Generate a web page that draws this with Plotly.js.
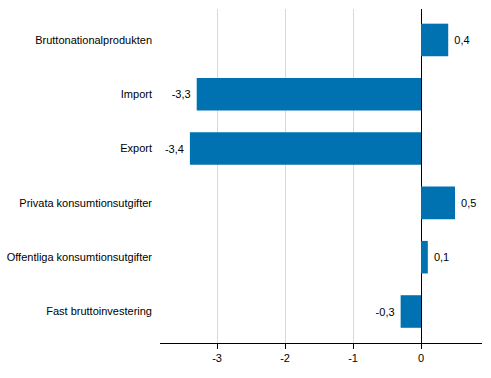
<!DOCTYPE html>
<html>
<head>
<meta charset="utf-8">
<script src="https://cdn.plot.ly/plotly-3.0.1.min.js"></script>
<style>html,body{margin:0;padding:0;background:#fff;}#chart{width:491px;height:378px;}</style>
</head>
<body>
<div id="chart"></div>
<script>
const categories = ["Bruttonationalprodukten","Import","Export","Privata konsumtionsutgifter","Offentliga konsumtionsutgifter","Fast bruttoinvestering"];
const values = [0.4, -3.3, -3.4, 0.5, 0.1, -0.3];
const xTickVals = [-3, -2, -1, 0];
const xTickText = ["-3", "-2", "-1", "0"];

const labels = values.map(v => {
  const s = v.toFixed(1).replace('.', ',');
  return v < 0 ? s + '\u00a0' : '\u00a0' + s;
});

const trace = {
  type: 'bar',
  orientation: 'h',
  y: categories,
  x: values,
  text: labels,
  textposition: 'outside',
  cliponaxis: false,
  textfont: {family: 'Liberation Sans, Arial, sans-serif', size: 11, color: '#000'},
  marker: {color: '#0072b2'},
  hoverinfo: 'none'
};

const layout = {
  width: 491, height: 378,
  margin: {l: 160, r: 9, t: 9, b: 35},
  paper_bgcolor: '#fff', plot_bgcolor: '#fff',
  font: {family: 'Liberation Sans, Arial, sans-serif', size: 11, color: '#000'},
  showlegend: false,
  bargap: 0.4,
  separators: ', ',
  xaxis: {
    range: [-3.84, 0.897],
    tickvals: xTickVals, ticktext: xTickText,
    showgrid: true, gridcolor: '#d9d9d9', gridwidth: 1,
    zeroline: true, zerolinecolor: '#000', zerolinewidth: 1,
    showline: true, linecolor: '#000', linewidth: 1,
    ticks: 'outside', ticklen: 5, tickcolor: '#000',
    fixedrange: true
  },
  yaxis: {
    type: 'category',
    range: [5.58, -0.57],
    showgrid: false, zeroline: false, showline: false,
    ticks: '', ticklabelstandoff: 7,
    fixedrange: true
  }
};

Plotly.newPlot('chart', [trace], layout, {displayModeBar: false, staticPlot: true});
</script>
</body>
</html>
